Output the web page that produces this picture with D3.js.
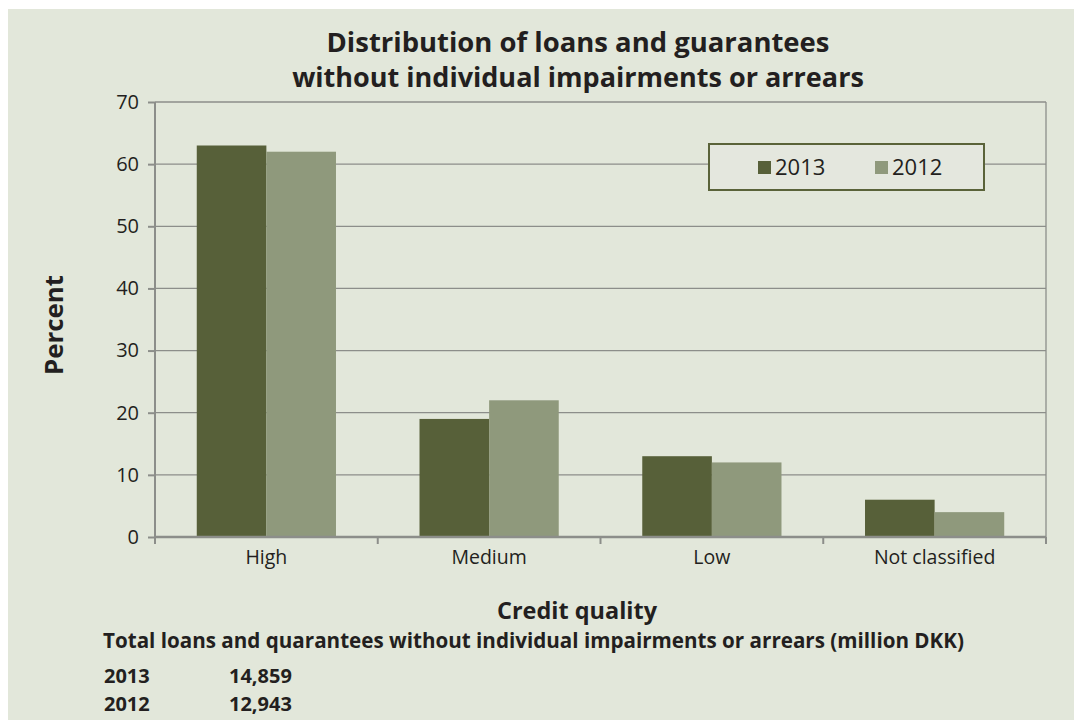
<!DOCTYPE html>
<meta charset="utf-8">
<script src="https://d3js.org/d3.v7.min.js"></script>
<style>
  body { margin: 0; background: #fff; }
  text { font-family: "Open Sans", "Noto Sans", sans-serif; fill: #231f20; }
</style>
<div id="chart"></div>
<script>
    // data
    var categories = ["High", "Medium", "Low", "Not classified"];
    var years = ["2013", "2012"];
    var values2013 = [63, 19, 13, 6];
    var values2012 = [62, 22, 12, 4];
    var yTicks = [0, 10, 20, 30, 40, 50, 60, 70];
    var totals = [["2013", "14,859"], ["2012", "12,943"]];

    var W = 1074, H = 720;
    var margin = {top: 102, right: 28, bottom: 183, left: 155},
        width = W - margin.left - margin.right,
        height = H - margin.top - margin.bottom;

    var colours = d3.scaleOrdinal().domain(years).range(["#576039", "#8f997c"]);

    // scale a text's font size so it spans the width seen in the picture
    function fit(sel, target) {
        var size = parseFloat(sel.style("font-size"));
        var len = sel.node().getComputedTextLength();
        sel.style("font-size", (size * target / len).toFixed(2) + "px");
    }

    var svg = d3.select("#chart").append("svg")
        .attr("width", W)
        .attr("height", H);

    svg.append("rect")
        .attr("x", 8).attr("y", 9)
        .attr("width", W - 8).attr("height", H - 9)
        .attr("fill", "#e2e7da");

    var g = svg.append("g")
        .attr("transform", "translate(" + margin.left + "," + margin.top + ")");

    var x = d3.scaleBand().domain(categories).range([0, width]);
    var x1 = d3.scaleBand().domain(years).range([0, x.bandwidth()]).paddingOuter(0.6);
    var y = d3.scaleLinear().domain([0, 70]).range([height, 0]);

    // gridlines
    g.append("g")
        .selectAll("line")
        .data(yTicks.slice(1))
        .enter().append("line")
            .attr("x1", 0).attr("x2", width)
            .attr("y1", function(d) { return y(d); })
            .attr("y2", function(d) { return y(d); })
            .attr("stroke", "#8c8e8a")
            .attr("stroke-width", 1.3);

    // right border
    g.append("line")
        .attr("x1", width).attr("x2", width)
        .attr("y1", 0).attr("y2", height + 7)
        .attr("stroke", "#8c8e8a")
        .attr("stroke-width", 1.3);

    // bars
    var rows = categories.map(function(c, i) {
        return {cat: c, vals: [{year: "2013", v: values2013[i]}, {year: "2012", v: values2012[i]}]};
    });

    g.selectAll(".grp")
        .data(rows)
        .enter().append("g")
            .attr("transform", function(d) { return "translate(" + x(d.cat) + ",0)"; })
        .selectAll("rect")
        .data(function(d) { return d.vals; })
        .enter().append("rect")
            .attr("x", function(d) { return x1(d.year); })
            .attr("y", function(d) { return y(d.v); })
            .attr("width", x1.bandwidth())
            .attr("height", function(d) { return height - y(d.v); })
            .attr("fill", function(d) { return colours(d.year); });

    // axes
    var yAxis = g.append("g")
        .call(d3.axisLeft(y).tickValues(yTicks).tickSize(7).tickPadding(9));
    yAxis.selectAll("line, path").attr("stroke", "#8c8e8a").attr("stroke-width", 2);
    yAxis.select("path").attr("d", "M0," + height + "V0");
    yAxis.selectAll("text")
        .style("font-family", "'Open Sans', sans-serif")
        .style("font-size", "20px")
        .attr("fill", "#231f20");

    var xAxis = g.append("g")
        .attr("transform", "translate(0," + height + ")")
        .call(d3.axisBottom(x).tickSize(0).tickPadding(13));
    xAxis.select("path").attr("d", "M0,0H" + width).attr("stroke", "#8c8e8a").attr("stroke-width", 2.5);
    xAxis.selectAll("text")
        .style("font-family", "'Open Sans', sans-serif")
        .style("font-size", "19.5px")
        .attr("fill", "#231f20");

    // category boundary ticks
    g.append("g")
        .selectAll("line")
        .data(d3.range(categories.length + 1))
        .enter().append("line")
            .attr("x1", function(i) { return i * x.bandwidth(); })
            .attr("x2", function(i) { return i * x.bandwidth(); })
            .attr("y1", height).attr("y2", height + 7)
            .attr("stroke", "#8c8e8a")
            .attr("stroke-width", 2);

    // title
    var t1 = svg.append("text")
        .attr("x", 578).attr("y", 52)
        .attr("text-anchor", "middle")
        .style("font-size", "27px")
        .style("font-weight", "bold")
        .text("Distribution of loans and guarantees");
    fit(t1, 503);
    var t2 = svg.append("text")
        .attr("x", 578).attr("y", 87)
        .attr("text-anchor", "middle")
        .style("font-size", "27px")
        .style("font-weight", "bold")
        .text("without individual impairments or arrears");
    fit(t2, 572);

    // axis titles
    var py = svg.append("text")
        .attr("transform", "translate(63,325) rotate(-90)")
        .attr("text-anchor", "middle")
        .style("font-size", "22px")
        .style("font-weight", "bold")
        .text("Percent");
    fit(py, 100);

    var px = svg.append("text")
        .attr("x", 577).attr("y", 619)
        .attr("text-anchor", "middle")
        .style("font-size", "21px")
        .style("font-weight", "bold")
        .text("Credit quality");
    fit(px, 160);

    // legend
    var legend = svg.append("g").attr("transform", "translate(709,144)");
    legend.append("rect")
        .attr("width", 275).attr("height", 46)
        .attr("fill", "#e4e7de")
        .attr("stroke", "#5a6339")
        .attr("stroke-width", 2);
    var li = legend.selectAll(".item")
        .data(years)
        .enter().append("g")
            .attr("transform", function(d, i) { return "translate(" + (49 + i * 117) + ",17)"; });
    li.append("rect")
        .attr("width", 13).attr("height", 13)
        .attr("fill", function(d) { return colours(d); });
    li.append("text")
        .attr("x", 17).attr("y", 14)
        .style("font-size", "22px")
        .text(function(d) { return d; });

    // footer
    var ft = svg.append("text")
        .attr("x", 103).attr("y", 648)
        .style("font-size", "19px")
        .style("font-weight", "bold")
        .text("Total loans and quarantees without individual impairments or arrears (million DKK)");
    fit(ft, 861);

    var foot = svg.selectAll(".tot")
        .data(totals)
        .enter().append("g");
    foot.append("text")
        .attr("x", 104)
        .attr("y", function(d, i) { return 683 + i * 28; })
        .style("font-size", "20px")
        .style("font-weight", "bold")
        .text(function(d) { return d[0]; });
    foot.append("text")
        .attr("x", 229)
        .attr("y", function(d, i) { return 683 + i * 28; })
        .style("font-size", "20px")
        .style("font-weight", "bold")
        .text(function(d) { return d[1]; });
</script>
